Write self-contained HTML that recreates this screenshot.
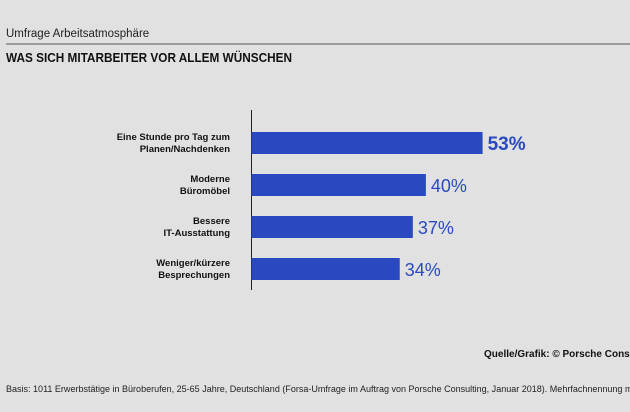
<!DOCTYPE html>
<html><head><meta charset="utf-8"><style>
body{margin:0;width:630px;height:412px;background:#e1e1e1;overflow:hidden;font-family:"Liberation Sans",sans-serif;}
svg{display:block}
</style></head><body>
<svg width="630" height="412">
<text x="6" y="37" font-size="11.5" fill="#222">Umfrage Arbeitsatmosphäre</text>
<line x1="6" y1="44" x2="630" y2="44" stroke="#555" stroke-width="1"/>
<text x="6" y="62" font-size="13" font-weight="bold" fill="#111" textLength="286" lengthAdjust="spacingAndGlyphs">WAS SICH MITARBEITER VOR ALLEM WÜNSCHEN</text>
<line x1="251.5" y1="110" x2="251.5" y2="290" stroke="#222" stroke-width="1"/>
<g id="bars"></g>
<text x="484" y="357" font-size="10" font-weight="bold" fill="#111">Quelle/Grafik: © Porsche Consulting</text>
<text x="6" y="392" font-size="9.6" fill="#222" textLength="650" lengthAdjust="spacingAndGlyphs">Basis: 1011 Erwerbstätige in Büroberufen, 25-65 Jahre, Deutschland (Forsa-Umfrage im Auftrag von Porsche Consulting, Januar 2018). Mehrfachnennung möglich</text>
</svg>
<script>
const categoriesLine1 = ["Eine Stunde pro Tag zum","Moderne","Bessere","Weniger/kürzere"];
const categoriesLine2 = ["Planen/Nachdenken","Büromöbel","IT-Ausstattung","Besprechungen"];
const values = [53,40,37,34];
const valueLabels = ["53%","40%","37%","34%"];
const NS="http://www.w3.org/2000/svg";
const g=document.getElementById('bars');
const x0=251.5, pxPer=4.36, top0=132, step=42, bh=22;
function xs(v){return x0+v*pxPer;}
function ys(i){return top0+i*step;}
values.forEach((v,i)=>{
  const r=document.createElementNS(NS,'rect');
  r.setAttribute('x',x0);r.setAttribute('y',ys(i));
  r.setAttribute('width',xs(v)-x0);r.setAttribute('height',bh);
  r.setAttribute('fill','#2a49c0');
  
  
  g.appendChild(r);
  const t=document.createElementNS(NS,'text');
  t.setAttribute('x',xs(v)+5);t.setAttribute('y',ys(i)+bh/2+7);
  t.setAttribute('font-size',i===0?'19':'18');
  if(i===0)t.setAttribute('font-weight','bold');
  t.setAttribute('fill','#2a49c0');
  t.textContent=valueLabels[i];
  
  
  g.appendChild(t);
  [categoriesLine1[i],categoriesLine2[i]].forEach((s,k)=>{
    const c=document.createElementNS(NS,'text');
    c.setAttribute('x',230);c.setAttribute('y',ys(i)+8+k*12);
    c.setAttribute('font-size','9.5');c.setAttribute('font-weight','bold');
    c.setAttribute('text-anchor','end');c.setAttribute('fill','#111');
    c.textContent=s;
    
    
    g.appendChild(c);
  });
});
</script>
</body></html>
